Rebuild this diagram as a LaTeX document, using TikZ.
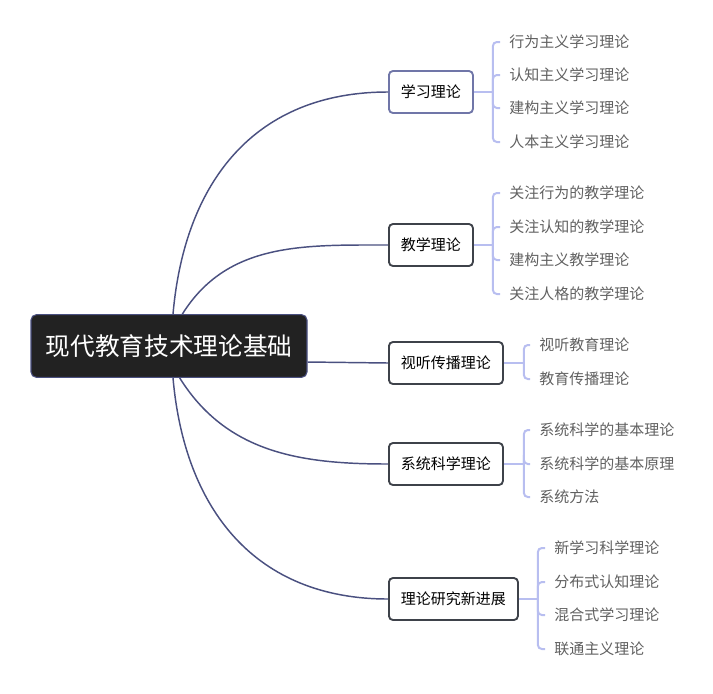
\documentclass[tikz,border=0pt]{standalone}
\usepackage{fontspec}
\setmainfont{Noto Sans CJK SC}
\usetikzlibrary{positioning}

\definecolor{curvecol}{RGB}{74,80,128}
\definecolor{spinecol}{RGB}{184,190,240}
\definecolor{boxcol}{RGB}{62,66,74}
\definecolor{selcol}{RGB}{112,118,168}
\definecolor{rootfill}{RGB}{34,34,34}
\definecolor{leafcol}{RGB}{96,96,96}

\begin{document}
\begin{tikzpicture}[x=0.75pt,y=-0.75pt,
	root node/.style={draw=curvecol,fill=rootfill,text=white,rounded corners=4pt,
		line width=0.8pt,minimum height=47pt,inner xsep=11pt,
		font=\fontsize{18.5}{20}\selectfont},
	main node/.style={draw=boxcol,fill=white,rounded corners=3pt,line width=1.4pt,
		minimum height=31.5pt,inner xsep=9pt,anchor=west,
		font=\fontsize{11.25}{13}\selectfont},
	leaf node/.style={text=leafcol,inner xsep=6.75pt,inner ysep=0pt,anchor=west,
		font=\fontsize{11.25}{13}\selectfont},
	trunk/.style={draw=curvecol,line width=1.1pt},
	spine/.style={draw=spinecol,line width=1.5pt,rounded corners=3pt}]
	
	\useasboundingbox (0,0) rectangle (713,693);
	
	\node[root node] (root) at (169,346) {现代教育技术理论基础};
	
	\node[main node,draw=selcol] (s1) at (388,92) {学习理论};
	\node[main node] (s2) at (388,245) {教学理论};
	\node[main node] (s3) at (388,363) {视听传播理论};
	\node[main node] (s4) at (388,464) {系统科学理论};
	\node[main node] (s5) at (388,599) {理论研究新进展};
	
	\coordinate (r1) at ([xshift=3pt]root.north);
	\coordinate (r2) at ([xshift=10pt]root.north);
	\coordinate (r3) at ([yshift=-12pt]root.east);
	\coordinate (r4) at ([xshift=8pt]root.south);
	\coordinate (r5) at ([xshift=3pt]root.south);
	
	\path[trunk]
	(r1) edge[out=85,in=180,looseness=1.1] (s1.west)
	(r2) edge[out=58,in=180] (s2.west)
	(r3) edge (s3.west)
	(r4) edge[out=-58,in=180] (s4.west)
	(r5) edge[out=-85,in=180,looseness=1.1] (s5.west);
	
	% leaves
	\node[leaf node] (s1a) at (500,42) {行为主义学习理论};
	\node[leaf node] (s1b) at (500,75) {认知主义学习理论};
	\node[leaf node] (s1c) at (500,108) {建构主义学习理论};
	\node[leaf node] (s1d) at (500,142) {人本主义学习理论};
	
	\node[leaf node] (s2a) at (500,193) {关注行为的教学理论};
	\node[leaf node] (s2b) at (500,227) {关注认知的教学理论};
	\node[leaf node] (s2c) at (500,260) {建构主义教学理论};
	\node[leaf node] (s2d) at (500,294) {关注人格的教学理论};
	
	\node[leaf node] (s3a) at (530,345) {视听教育理论};
	\node[leaf node] (s3b) at (530,379) {教育传播理论};
	
	\node[leaf node] (s4a) at (530,430) {系统科学的基本理论};
	\node[leaf node] (s4b) at (530,464) {系统科学的基本原理};
	\node[leaf node] (s4c) at (530,497) {系统方法};
	
	\node[leaf node] (s5a) at (545,548) {新学习科学理论};
	\node[leaf node] (s5b) at (545,582) {分布式认知理论};
	\node[leaf node] (s5c) at (545,615) {混合式学习理论};
	\node[leaf node] (s5d) at (545,649) {联通主义理论};
	
	% brackets
	\coordinate (j1) at ([xshift=14.25pt]s1.east);
	\coordinate (j2) at ([xshift=14.25pt]s2.east);
	\coordinate (j3) at ([xshift=15pt]s3.east);
	\coordinate (j4) at ([xshift=15pt]s4.east);
	\coordinate (j5) at ([xshift=14.25pt]s5.east);
	
	\draw[spine] (s1.east) -- (j1);
	\draw[spine] (s2.east) -- (j2);
	\draw[spine] (s3.east) -- (j3);
	\draw[spine] (s4.east) -- (j4);
	\draw[spine] (s5.east) -- (j5);
	
	\foreach \l in {s1a,s1b,s1c,s1d} \draw[spine] (j1) |- (\l.west);
	\foreach \l in {s2a,s2b,s2c,s2d} \draw[spine] (j2) |- (\l.west);
	\foreach \l in {s3a,s3b} \draw[spine] (j3) |- (\l.west);
	\foreach \l in {s4a,s4b,s4c} \draw[spine] (j4) |- (\l.west);
	\foreach \l in {s5a,s5b,s5c,s5d} \draw[spine] (j5) |- (\l.west);
\end{tikzpicture}
\end{document}
